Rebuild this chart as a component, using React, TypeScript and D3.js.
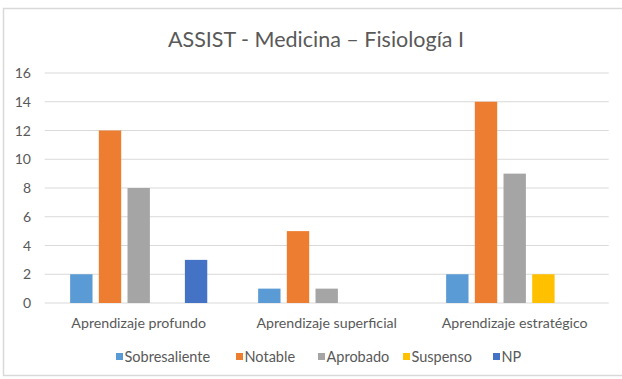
import React from "react";
import * as d3 from "d3";

const categories = ["Aprendizaje profundo", "Aprendizaje superficial", "Aprendizaje estratégico"];
const seriesNames = ["Sobresaliente", "Notable", "Aprobado", "Suspenso", "NP"];
const sobresaliente = [2, 1, 2];
const notable = [12, 5, 14];
const aprobado = [8, 1, 9];
const suspenso = [0, 0, 2];
const np = [3, 0, 0];
const yTicks = [0, 2, 4, 6, 8, 10, 12, 14, 16];
const colors = ["#5B9BD5", "#ED7D31", "#A5A5A5", "#FFC000", "#4472C4"];

const seriesValues = [sobresaliente, notable, aprobado, suspenso, np];

export default function App() {
  const W = 622;
  const H = 379;
  const left = 44.7;
  const right = 608.7;
  const top = 73;
  const bottom = 303;
  const font = "Lato, 'Open Sans', sans-serif";
  const textColor = "#595959";

  const y = d3.scaleLinear().domain([0, 16]).range([bottom, top]);
  const x0 = d3.scaleBand<string>().domain(categories).range([left, right]).paddingInner(0.237).paddingOuter(0.1185);
  const x1 = d3.scaleBand<string>().domain(seriesNames).range([0, x0.bandwidth()]).paddingInner(0.22).paddingOuter(0.11);

  const legendX = [116, 236, 318, 403, 493];

  return (
    <svg width={W} height={H} style={{ position: "absolute", left: 0, top: 0 }} fontFamily={font}>
      <rect x={0} y={0} width={W} height={H} fill="#fff" />
      <rect x={3.5} y={8.5} width={640} height={367} fill="none" stroke="#D9D9D9" strokeWidth={1.5} />
      <text x={316} y={46.5} textAnchor="middle" fontSize={21.5} fill={textColor}>
        ASSIST - Medicina – Fisiología I
      </text>
      {yTicks.map((t) => (
        <g key={t}>
          <line x1={left} x2={right} y1={y(t)} y2={y(t)} stroke="#D9D9D9" strokeWidth={1} />
          <text x={31} y={y(t)} dy="0.36em" textAnchor="end" fontSize={14} fill={textColor}>
            {t}
          </text>
        </g>
      ))}
      {categories.map((c, ci) => (
        <g key={c} transform={`translate(${x0(c)},0)`}>
          {seriesNames.map((s, si) => {
            const v = seriesValues[si][ci];
            if (!v) return null;
            return (
              <rect key={s} x={x1(s)} y={y(v)} width={x1.bandwidth()} height={y(0) - y(v)} fill={colors[si]} />
            );
          })}
          <text x={x0.bandwidth() / 2} y={327.5} textAnchor="middle" fontSize={14.2} fill={textColor}>
            {c}
          </text>
        </g>
      ))}
      {seriesNames.map((s, si) => (
        <g key={s} transform={`translate(${legendX[si]},353)`}>
          <rect x={0} y={0} width={7} height={7} fill={colors[si]} />
          <text x={8.5} y={3.5} dy="0.37em" fontSize={14.5} fill={textColor}>
            {s}
          </text>
        </g>
      ))}
    </svg>
  );
}
